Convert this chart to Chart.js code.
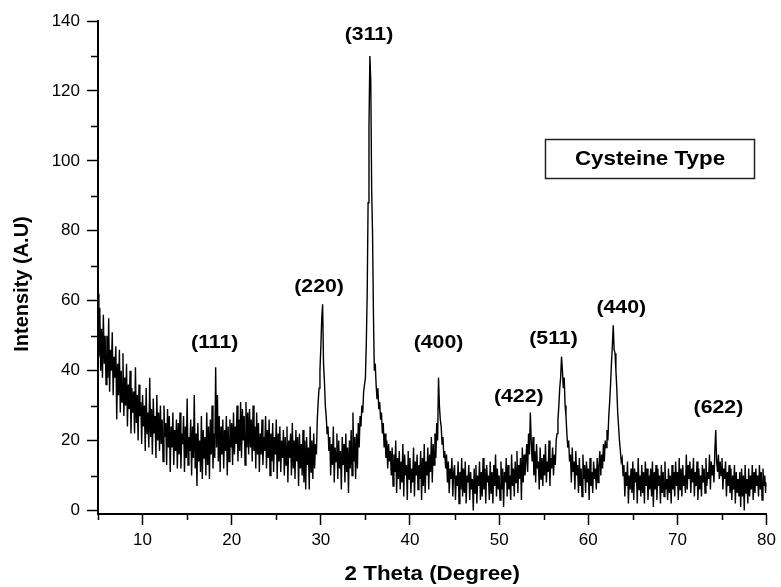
<!DOCTYPE html>
<html>
<head>
<meta charset="utf-8">
<script src="https://cdn.jsdelivr.net/npm/chart.js@4.4.1/dist/chart.umd.min.js"></script>
<style>
  html, body { margin: 0; padding: 0; background: #fff; }
</style>
</head>
<body>
<canvas id="canvas" width="781" height="587"></canvas>
<script>
// XRD scan, 2 theta from 5 to 80 deg, one reading every 0.1 deg
var startAngle = 5;
var angleStep = 0.1;

// 5.0 - 29.9 deg
var intensityLow = [
    62, 44, 58, 40, 52, 38, 56, 42, 50, 36,
    50, 38, 55, 34, 46, 40, 51, 33, 44, 38,
    47, 26, 42, 33, 46, 28, 40, 31, 45, 27,
    38, 30, 42, 24, 36, 29, 40, 22, 35, 28,
    34, 22, 41, 25, 33, 20, 36, 27, 31, 19,
    33, 24, 30, 17, 35, 22, 28, 18, 38, 21,
    29, 16, 32, 22, 27, 15, 33, 20, 28, 17,
    30, 19, 26, 14, 30, 21, 25, 13, 29, 18,
    27, 11, 24, 18, 28, 13, 23, 17, 26, 12,
    25, 16, 28, 12, 22, 19, 27, 11, 24, 15,
    32, 13, 21, 17, 26, 10, 24, 15, 33, 12,
    22, 7, 25, 14, 20, 11, 27, 9, 23, 15,
    21, 10, 28, 13, 24, 9, 26, 16, 30, 12,
    22, 15, 41, 18, 33, 14, 27, 11, 24, 16,
    26, 12, 23, 17, 27, 10, 24, 14, 26, 18,
    25, 13, 28, 16, 24, 19, 30, 14, 26, 17,
    31, 15, 29, 20, 27, 13, 31, 18, 28, 16,
    29, 18, 26, 14, 30, 17, 24, 12, 28, 16,
    25, 11, 22, 16, 26, 13, 21, 17, 27, 12,
    23, 15, 26, 10, 22, 14, 25, 11, 21, 16,
    26, 9, 22, 14, 24, 11, 20, 15, 23, 10,
    21, 13, 24, 8, 20, 15, 22, 10, 25, 12,
    20, 9, 23, 14, 21, 7, 22, 12, 19, 10,
    23, 8, 20, 6, 21, 13, 18, 6, 24, 11,
    20, 9, 22, 12, 19, 16, 26, 31, 35, 40
];

// 30.0 - 54.9 deg
var intensityMid = [
    47, 55, 59, 42, 37, 30, 27, 22, 24, 17,
    21, 10, 19, 13, 24, 8, 18, 14, 22, 9,
    20, 12, 17, 6, 21, 13, 19, 8, 22, 11,
    18, 5, 20, 12, 23, 10, 28, 14, 21, 9,
    22, 12, 25, 18, 27, 24, 30, 28, 34, 36,
    38, 48, 62, 88, 110, 130, 123, 92, 79, 56,
    40, 42, 36, 32, 35, 29, 31, 26, 28, 22,
    25, 18, 22, 15, 20, 12, 19, 14, 17, 10,
    18, 7, 16, 11, 20, 5, 15, 9, 17, 6,
    14, 8, 19, 4, 16, 10, 13, 3, 17, 9,
    15, 5, 12, 8, 18, 4, 14, 10, 16, 6,
    13, 9, 17, 3, 15, 7, 19, 5, 14, 10,
    18, 6, 16, 11, 21, 8, 19, 13, 22, 15,
    25, 20, 38, 30, 26, 24, 19, 21, 15, 17,
    12, 16, 8, 14, 5, 12, 9, 15, 4, 11,
    13, 3, 10, 7, 14, 2, 11, 6, 15, 4,
    12, 5, 14, 2, 10, 8, 13, 3, 11, 6,
    9, 0, 12, 5, 13, 2, 10, 7, 14, 3,
    11, 4, 15, 6, 12, 2, 13, 8, 10, 3,
    14, 5, 11, 2, 13, 7, 16, 4, 12, 6,
    10, 3, 14, 6, 12, 1, 11, 8, 15, 4,
    13, 6, 10, 3, 16, 7, 12, 4, 14, 8,
    17, 5, 13, 9, 15, 3, 18, 8, 16, 10,
    14, 19, 11, 22, 16, 28, 20, 14, 21, 10,
    17, 8, 19, 12, 14, 6, 18, 9, 15, 7
];

// 55.0 - 80.0 deg
var intensityHigh = [
    16, 10, 19, 8, 14, 11, 20, 7, 15, 12,
    18, 10, 16, 13, 20, 22, 26, 30, 35, 38,
    44, 40, 35, 38, 30, 27, 22, 18, 20, 14,
    16, 8, 18, 11, 14, 6, 17, 10, 13, 5,
    15, 7, 12, 4, 16, 9, 13, 5, 14, 8,
    12, 3, 15, 7, 11, 5, 14, 9, 12, 6,
    15, 8, 13, 17, 10, 16, 12, 19, 14, 20,
    18, 23, 20, 27, 31, 36, 42, 47, 53, 46,
    45, 40, 35, 28, 24, 20, 17, 14, 15, 10,
    13, 4, 11, 7, 14, 2, 10, 6, 12, 5,
    14, 3, 12, 8, 11, 2, 15, 6, 10, 4,
    13, 5, 11, 2, 14, 7, 12, 3, 10, 6,
    12, 4, 14, 1, 11, 6, 13, 3, 12, 7,
    10, 2, 13, 5, 11, 4, 14, 6, 9, 3,
    12, 5, 10, 2, 13, 6, 11, 4, 14, 7,
    11, 3, 15, 6, 12, 4, 13, 7, 10, 5,
    16, 6, 13, 9, 14, 5, 12, 8, 15, 4,
    11, 7, 14, 3, 12, 6, 10, 4, 13, 8,
    12, 5, 15, 7, 11, 9, 16, 6, 14, 10,
    13, 8, 17, 23, 14, 11, 16, 9, 14, 10,
    15, 6, 12, 9, 14, 4, 11, 7, 13, 5,
    12, 3, 10, 6, 13, 2, 11, 5, 9, 4,
    11, 1, 12, 4, 10, 0, 13, 5, 9, 2,
    12, 4, 10, 6, 13, 3, 11, 5, 12, 7,
    10, 4, 13, 6, 11, 3, 12, 7, 10, 5,
    8
];

var xTicks = [10, 20, 30, 40, 50, 60, 70, 80];
var xMinorTicks = [5, 15, 25, 35, 45, 55, 65, 75];
var yTicks = [0, 20, 40, 60, 80, 100, 120, 140];
var yMinorTicks = [10, 30, 50, 70, 90, 110, 130];

// Miller indices written over the peaks (label centre in data units)
var peakNames = ['(111)', '(220)', '(311)', '(400)', '(422)', '(511)', '(440)', '(622)'];
var peakAt = [18.1, 29.8, 35.4, 43.2, 52.2, 56.1, 63.7, 74.6];
var peakLabelY = [48, 64, 136, 48, 32.5, 49, 58, 29.5];

var intensity = intensityLow.concat(intensityMid, intensityHigh);
var points = intensity.map(function (v, i) {
    return { x: Math.round((startAngle + i * angleStep) * 10) / 10, y: v };
});

var FONT = "'Liberation Sans', Arial, sans-serif";

function wideText(ctx, text, x, y, size) {
    // the original lettering is a bit wider than plain Arial
    ctx.save();
    ctx.translate(x, y);
    ctx.scale(1.12, 1);
    ctx.font = 'bold ' + size + 'px ' + FONT;
    ctx.textAlign = 'center';
    ctx.textBaseline = 'middle';
    ctx.fillStyle = '#000';
    ctx.fillText(text, 0, 0);
    ctx.restore();
}

var decorations = {
    id: 'decorations',
    afterDraw: function (chart) {
        var ctx = chart.ctx;
        var xs = chart.scales.x;
        var ys = chart.scales.y;
        var area = chart.chartArea;

        ctx.save();
        ctx.strokeStyle = '#000';
        ctx.lineWidth = 1.5;
        ctx.beginPath();
        yMinorTicks.forEach(function (v) {
            var p = Math.round(ys.getPixelForValue(v)) + 0.5;
            ctx.moveTo(area.left - 7, p);
            ctx.lineTo(area.left, p);
        });
        xMinorTicks.forEach(function (v) {
            var p = Math.round(xs.getPixelForValue(v)) + 0.5;
            ctx.moveTo(p, area.bottom);
            ctx.lineTo(p, area.bottom + 6);
        });
        ctx.stroke();
        ctx.restore();

        // axis titles
        wideText(ctx, '2 Theta (Degree)', (area.left + area.right) / 2, 574, 20);
        ctx.save();
        ctx.translate(22, 284);
        ctx.rotate(-Math.PI / 2);
        ctx.font = 'bold 20px ' + FONT;
        ctx.textAlign = 'center';
        ctx.textBaseline = 'middle';
        ctx.fillStyle = '#000';
        ctx.fillText('Intensity (A.U)', 0, 0);
        ctx.restore();

        // peak indices
        peakNames.forEach(function (name, i) {
            wideText(ctx, name, xs.getPixelForValue(peakAt[i]), ys.getPixelForValue(peakLabelY[i]), 19);
        });

        // sample box
        ctx.save();
        ctx.strokeStyle = '#222';
        ctx.lineWidth = 1.5;
        ctx.strokeRect(545.5, 139.5, 209, 39);
        ctx.restore();
        wideText(ctx, 'Cysteine Type', 650, 159, 20);
    }
};

var ctx = document.getElementById('canvas').getContext('2d');
var xrdChart = new Chart(ctx, {
    type: 'line',
    data: {
        datasets: [{
            label: 'Cysteine Type',
            data: points,
            borderColor: '#000',
            borderWidth: 1.4,
            pointRadius: 0,
            tension: 0,
            fill: false
        }]
    },
    options: {
        responsive: false,
        animation: false,
        devicePixelRatio: 1,
        layout: { padding: { top: 21, right: 12, left: 0, bottom: 0 } },
        plugins: {
            legend: { display: false },
            tooltip: { enabled: false }
        },
        scales: {
            x: {
                type: 'linear',
                min: 5,
                max: 80,
                afterBuildTicks: function (scale) {
                    scale.ticks = xTicks.map(function (v) { return { value: v }; });
                },
                afterFit: function (scale) { scale.height = 73; },
                border: { color: '#000', width: 2 },
                grid: { drawOnChartArea: false, tickLength: 11, tickColor: '#000', tickWidth: 1.5 },
                ticks: {
                    color: '#000',
                    font: { family: FONT, size: 17 },
                    padding: 5,
                    maxRotation: 0,
                    autoSkip: false
                }
            },
            y: {
                min: -1,
                max: 140,
                afterBuildTicks: function (scale) {
                    scale.ticks = yTicks.map(function (v) { return { value: v }; });
                },
                afterFit: function (scale) { scale.width = 98; },
                border: { color: '#000', width: 2 },
                grid: { drawOnChartArea: false, tickLength: 11, tickColor: '#000', tickWidth: 1.5 },
                ticks: {
                    color: '#000',
                    font: { family: FONT, size: 17 },
                    padding: 7,
                    autoSkip: false
                }
            }
        }
    },
    plugins: [decorations]
});
</script>
</body>
</html>
